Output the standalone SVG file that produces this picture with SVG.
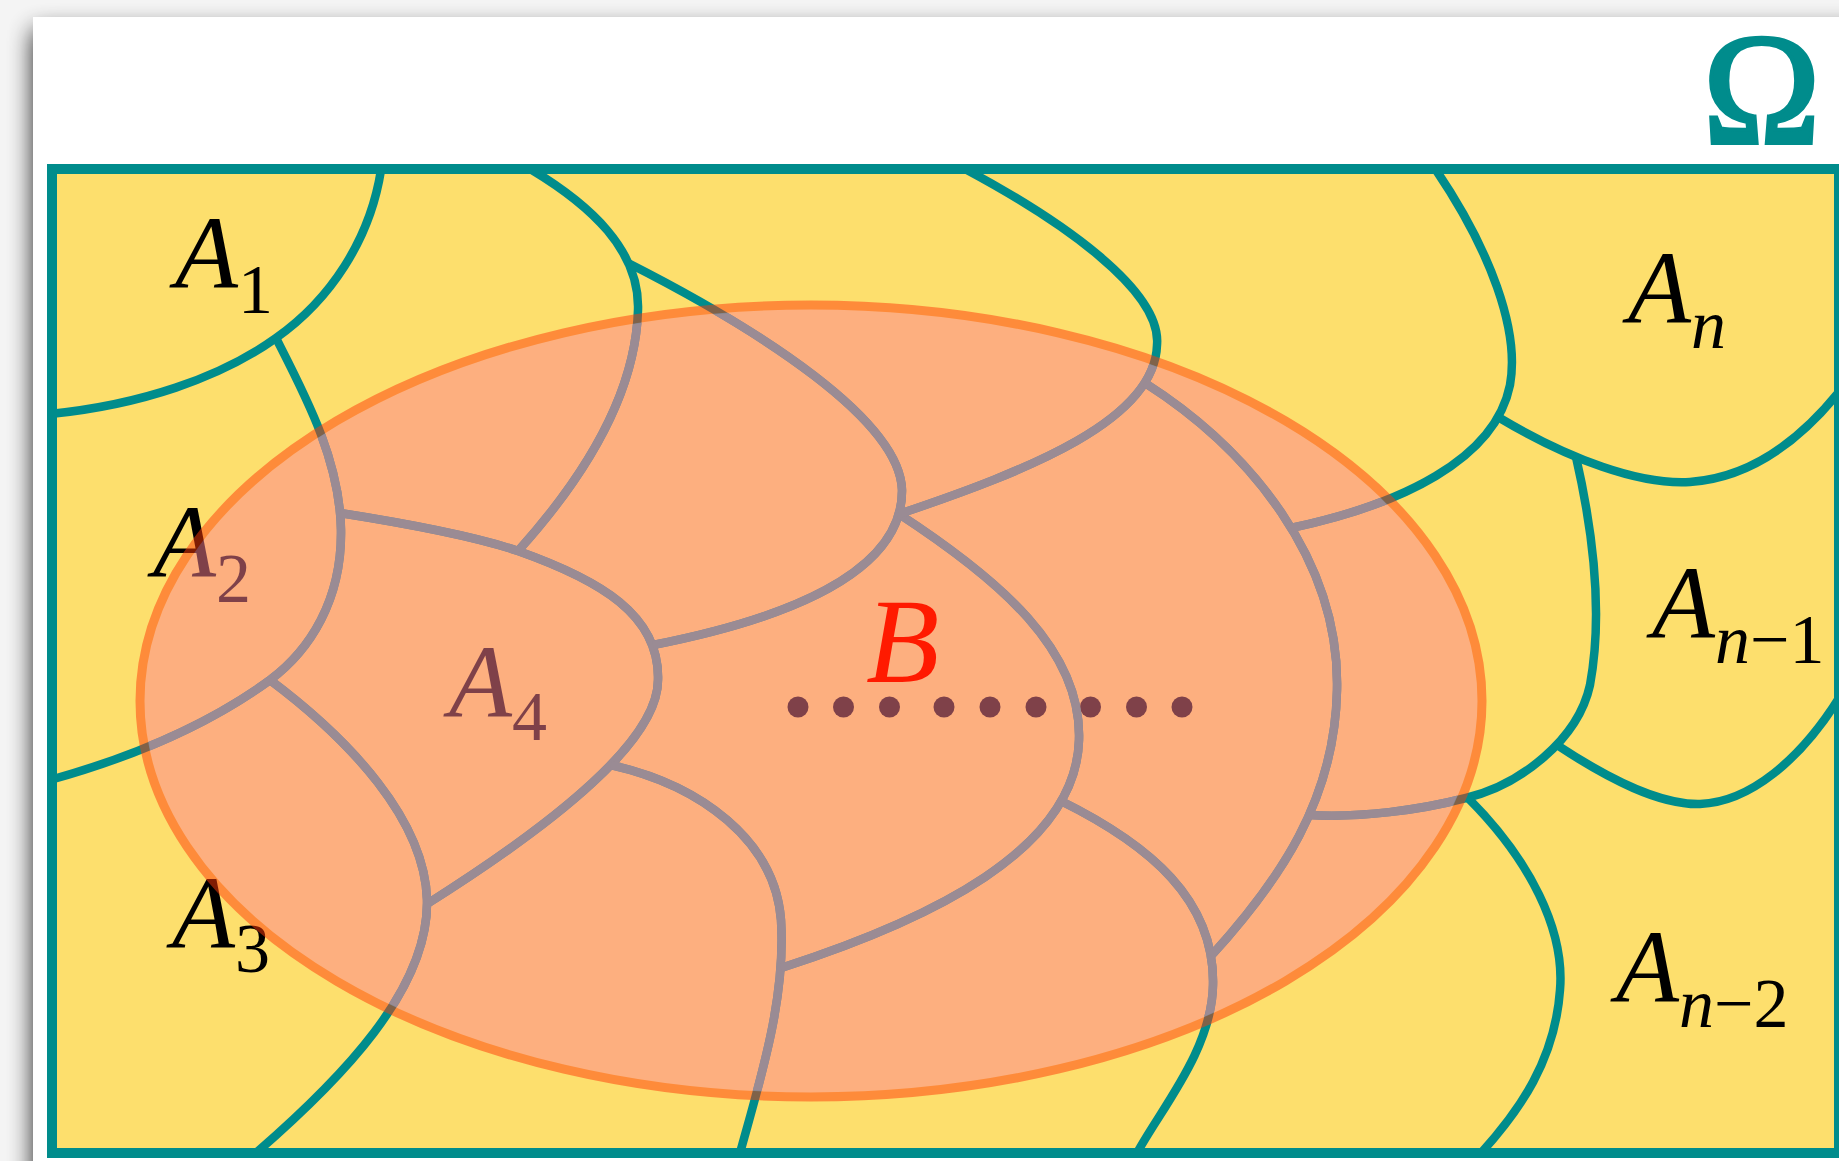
<svg xmlns="http://www.w3.org/2000/svg" width="1839" height="1161" viewBox="0 0 1839 1161">
<defs>
<filter id="blur" x="-5%" y="-5%" width="110%" height="110%"><feGaussianBlur stdDeviation="12"/></filter>
<clipPath id="inside"><ellipse cx="811" cy="701" rx="666" ry="391"/></clipPath>
<style>
.edge{fill:none;stroke-width:8.5}
.lbl{font-family:"Liberation Serif","Times New Roman",serif;font-style:italic;font-size:103px;fill:#000}
.sub{font-size:70px;font-style:normal}
.it{font-style:italic}
.dot{fill:#000}
</style>
</defs>
<rect width="1839" height="1161" fill="#f4f4f4"/>
<rect x="33" y="30" width="1900" height="1300" fill="#000" opacity="0.85" filter="url(#blur)"/>
<rect x="33" y="17" width="1830" height="1160" fill="#ffffff"/>
<text x="1703" y="143" font-family="Liberation Serif, Times New Roman, serif" font-size="158" fill="#008C8C" stroke="#008C8C" stroke-width="4">Ω</text>
<g id="frame">
<rect x="52" y="169" width="1787" height="984" fill="#FDDF6D"/>
</g>
<g stroke="#008C8C">
<g id="boundaries">
<path class="edge" d="M381,170 C370,240 330,300 276,338 C220,378 140,405 50,414"/>
<path class="edge" d="M276,338 C305,395 340,460 341,530 C342,600 310,650 270,680 C215,720 140,755 50,780"/>
<path class="edge" d="M340,513 C410,524 480,538 518,551 C600,580 660,615 658,680 C658,740 560,820 427,904"/>
<path class="edge" d="M532,170 C590,205 640,250 638,310 C636,380 600,460 518,551"/>
<path class="edge" d="M628,263 C760,330 900,420 902,490 C903,575 780,620 653,645"/>
<path class="edge" d="M270,680 C350,740 425,820 427,900 C429,990 340,1080 256,1153"/>
<path class="edge" d="M611,765 C700,785 775,840 781,920 C786,1000 760,1080 740,1153"/>
<path class="edge" d="M899,514 C1000,580 1082,650 1079,740 C1076,850 930,920 781,968"/>
<path class="edge" d="M1061,801 C1150,845 1215,900 1213,985 C1212,1050 1160,1110 1137,1153"/>
<path class="edge" d="M967,170 C1060,220 1162,290 1157,345 C1155,420 1030,470 899,514"/>
<path class="edge" d="M1145,383 C1250,450 1340,560 1337,690 C1335,800 1280,880 1211,956"/>
<path class="edge" d="M1436,170 C1490,250 1520,330 1510,385 C1495,460 1400,505 1291,528"/>
<path class="edge" d="M1498,417 C1570,460 1640,485 1690,482 C1750,478 1800,440 1839,392"/>
<path class="edge" d="M1576,457 C1595,540 1602,620 1590,685 C1578,740 1520,785 1466,798 C1420,810 1360,818 1309,815"/>
<path class="edge" d="M1557,745 C1610,780 1660,805 1700,804 C1750,802 1800,760 1839,698"/>
<path class="edge" d="M1468,798 C1530,860 1565,930 1560,990 C1555,1060 1520,1110 1481,1153"/>
</g>
</g>
<rect x="52" y="169" width="1787" height="984" fill="none" stroke="#008C8C" stroke-width="10"/>
<g id="labels">
<text id="A1" class="lbl" x="175" y="288">A<tspan class="sub" dy="25">1</tspan></text>
<text id="A2" class="lbl" x="153" y="577">A<tspan class="sub" dy="25">2</tspan></text>
<text id="A3" class="lbl" x="172" y="948">A<tspan class="sub" dy="24">3</tspan></text>
<text id="A4" class="lbl" x="449" y="717">A<tspan class="sub" dy="23">4</tspan></text>
<text id="An" class="lbl" x="1628" y="323">A<tspan class="sub it" dy="25">n</tspan></text>
<text id="An-1" class="lbl" x="1652" y="638">A<tspan class="sub it" dy="25">n</tspan><tspan class="sub">−1</tspan></text>
<text id="An-2" class="lbl" x="1616" y="1002">A<tspan class="sub it" dy="25">n</tspan><tspan class="sub">−2</tspan></text>
</g>
<g id="dots">
<circle class="dot" cx="798" cy="707" r="10.5"/>
<circle class="dot" cx="843.5" cy="707" r="10.5"/>
<circle class="dot" cx="889.5" cy="707" r="10.5"/>
<circle class="dot" cx="944" cy="707" r="10.5"/>
<circle class="dot" cx="990" cy="707" r="10.5"/>
<circle class="dot" cx="1036" cy="707" r="10.5"/>
<circle class="dot" cx="1090.5" cy="707" r="10.5"/>
<circle class="dot" cx="1136.5" cy="707" r="10.5"/>
<circle class="dot" cx="1182" cy="707" r="10.5"/>
</g>
<g id="B" opacity="0.5">
<ellipse cx="811" cy="701" rx="671" ry="396" fill="#FD8191" stroke="#FF3A08" stroke-width="9"/>
</g>
<use href="#boundaries" stroke="#9A8B94" clip-path="url(#inside)"/>
<text x="866" y="682" font-family="Liberation Serif, Times New Roman, serif" font-style="italic" font-size="120" fill="#FF1A00">B</text>
</svg>
